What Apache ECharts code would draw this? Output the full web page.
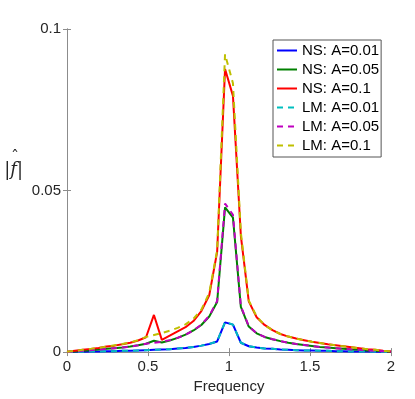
<!DOCTYPE html>
<html>
<head>
<meta charset="utf-8">
<script src="https://cdn.jsdelivr.net/npm/echarts@6/dist/echarts.min.js"></script>
<style>
  html, body { margin: 0; padding: 0; background: #fff; }
  #chart { width: 415px; height: 399px; }
</style>
</head>
<body>
<div id="chart"></div>
<script>
// frequency grid
const freq = [0, 0.0488, 0.0976, 0.1463, 0.1951, 0.2439, 0.2927, 0.3415, 0.3902, 0.4390,
  0.4878, 0.5366, 0.5854, 0.6341, 0.6829, 0.7317, 0.7805, 0.8293, 0.8780, 0.9268,
  0.9756, 1.0244, 1.0732, 1.1220, 1.1707, 1.2195, 1.2683, 1.3171, 1.3659, 1.4146,
  1.4634, 1.5122, 1.5610, 1.6098, 1.6585, 1.7073, 1.7561, 1.8049, 1.8537, 1.9024,
  1.9512, 2.0]

const ns001 = [0, 0.0001, 0.0001, 0.0002, 0.0002, 0.0003, 0.0003, 0.0004, 0.0004, 0.0005,
  0.0006, 0.0007, 0.0008, 0.0009, 0.0011, 0.0013, 0.0016, 0.002, 0.0025, 0.0033,
  0.0092, 0.0085, 0.0029, 0.0018, 0.0014, 0.0011, 0.001, 0.0008, 0.0007, 0.0006,
  0.0005, 0.0005, 0.0004, 0.0004, 0.0003, 0.0003, 0.0002, 0.0002, 0.0002, 0.0001,
  0.0001, 0]
const ns005 = [0, 0.0002, 0.0004, 0.0006, 0.0008, 0.001, 0.0012, 0.0014, 0.0017, 0.0021,
  0.0026, 0.0035, 0.003, 0.0036, 0.0044, 0.0054, 0.0067, 0.0084, 0.011, 0.0155,
  0.0448, 0.0416, 0.014, 0.0079, 0.0058, 0.0047, 0.004, 0.0034, 0.0029, 0.0025,
  0.0022, 0.0019, 0.0016, 0.0014, 0.0012, 0.001, 0.0008, 0.0007, 0.0005, 0.0004,
  0.0003, 0.0001]
const ns01 = [0.0001, 0.0004, 0.0007, 0.001, 0.0013, 0.0017, 0.002, 0.0024, 0.0029, 0.0036,
  0.0046, 0.0115, 0.0038, 0.0051, 0.0064, 0.0077, 0.0096, 0.0127, 0.0176, 0.031,
  0.0876, 0.0793, 0.036, 0.0157, 0.0108, 0.0084, 0.0068, 0.0056, 0.0048, 0.0042,
  0.0037, 0.0032, 0.0028, 0.0024, 0.0021, 0.0018, 0.0015, 0.0012, 0.0009, 0.0007,
  0.0004, 0.0002]
const lm001 = [0, 0.0001, 0.0001, 0.0002, 0.0002, 0.0003, 0.0003, 0.0004, 0.0004, 0.0005,
  0.0006, 0.0007, 0.0008, 0.0009, 0.0011, 0.0013, 0.0016, 0.002, 0.0025, 0.0033,
  0.0093, 0.0085, 0.0029, 0.0018, 0.0014, 0.0011, 0.001, 0.0008, 0.0007, 0.0006,
  0.0005, 0.0005, 0.0004, 0.0004, 0.0003, 0.0003, 0.0002, 0.0002, 0.0002, 0.0001,
  0.0001, 0]
const lm005 = [0, 0.0002, 0.0004, 0.0006, 0.0008, 0.001, 0.0012, 0.0014, 0.0017, 0.0021,
  0.0026, 0.0029, 0.0032, 0.0037, 0.0044, 0.0054, 0.0067, 0.0085, 0.0112, 0.0158,
  0.046, 0.0425, 0.0142, 0.008, 0.0058, 0.0047, 0.004, 0.0034, 0.0029, 0.0025,
  0.0022, 0.0019, 0.0016, 0.0014, 0.0012, 0.001, 0.0008, 0.0007, 0.0005, 0.0004,
  0.0003, 0.0001]
const lm01 = [0.0001, 0.0004, 0.0007, 0.001, 0.0013, 0.0017, 0.0021, 0.0025, 0.003, 0.0037,
  0.0047, 0.0053, 0.0059, 0.0066, 0.0075, 0.0086, 0.0103, 0.0131, 0.0183, 0.0315,
  0.0922, 0.0832, 0.037, 0.016, 0.011, 0.0084, 0.0068, 0.0056, 0.0048, 0.0042,
  0.0037, 0.0032, 0.0028, 0.0024, 0.0021, 0.0018, 0.0015, 0.0012, 0.0009, 0.0007,
  0.0004, 0.0002]

const names = ['NS: A=0.01', 'NS: A=0.05', 'NS: A=0.1', 'LM: A=0.01', 'LM: A=0.05', 'LM: A=0.1']
const values = [ns001, ns005, ns01, lm001, lm005, lm01]
const colors = ['#0000ff', '#008000', '#ff0000', '#00bfbf', '#bf00bf', '#bfbf00']
const dashed = [false, false, false, true, true, true]

const font = 'Liberation Sans'
const axisColor = '#8c8c8c'

function makeSeries() {
  return values.map((vals, i) => {
    return {
      name: names[i],
      type: 'line',
      xAxisIndex: 0,
      yAxisIndex: 0,
      symbol: 'none',
      animation: false,
      data: freq.map((f, j) => [f, vals[j]]),
      lineStyle: {
        color: colors[i],
        width: 2,
        type: dashed[i] ? [6, 5] : 'solid'
      },
      itemStyle: { color: colors[i] }
    }
  })
}

const boxAxis = {
  axisLine: { show: true, lineStyle: { color: axisColor, width: 1 } },
  axisTick: { show: true, inside: true, length: 4, lineStyle: { color: axisColor } },
  splitLine: { show: false }
}

const option = {
  animation: false,
  backgroundColor: '#fff',
  grid: { left: 67, right: 24, top: 29, bottom: 45 },
  legend: {
    orient: 'vertical',
    left: 273,
    top: 40,
    padding: [3, 2, 4, 3],
    itemGap: 4,
    itemWidth: 20,
    itemHeight: 14,
    itemTextGap: 1,
    backgroundColor: '#fff',
    borderColor: '#555',
    borderWidth: 1,
    borderRadius: 0,
    itemStyle: { color: 'transparent', borderWidth: 0, opacity: 0 },
    textStyle: { fontFamily: font, fontSize: 15, color: '#000' },
    data: names
  },
  xAxis: [
    Object.assign({
      type: 'value', min: 0, max: 2, interval: 0.5, position: 'bottom',
      name: 'Frequency', nameLocation: 'middle', nameGap: 26,
      nameTextStyle: { fontFamily: font, fontSize: 15, color: '#262626' },
      axisLabel: { fontFamily: font, fontSize: 15, color: '#262626', margin: 7 }
    }, boxAxis),
    Object.assign({
      type: 'value', min: 0, max: 2, interval: 0.5, position: 'top',
      axisLabel: { show: false }
    }, boxAxis)
  ],
  yAxis: [
    Object.assign({
      type: 'value', min: 0, max: 0.1, interval: 0.05, position: 'left',
      name: '{h|\u02c6}\n{t||f|}', nameLocation: 'middle', nameRotate: 0, nameGap: 44,
      nameTextStyle: {
        color: '#262626',
        padding: [0, 0, 46, 0],
        rich: {
          h: { fontFamily: 'DejaVu Serif', fontSize: 16, lineHeight: 5, color: '#262626', align: 'center', padding: [0, 0, 0, 3] },
          t: { fontFamily: 'DejaVu Serif', fontStyle: 'italic', fontSize: 18, lineHeight: 20, color: '#262626', align: 'center' }
        }
      },
      axisLabel: { fontFamily: font, fontSize: 15, color: '#262626', margin: 6 }
    }, boxAxis),
    Object.assign({
      type: 'value', min: 0, max: 0.1, interval: 0.05, position: 'right',
      axisLabel: { show: false }
    }, boxAxis)
  ],
  series: makeSeries()
}

const chart = echarts.init(document.getElementById('chart'), null, { renderer: 'canvas' })
chart.setOption(option)
</script>
</body>
</html>
